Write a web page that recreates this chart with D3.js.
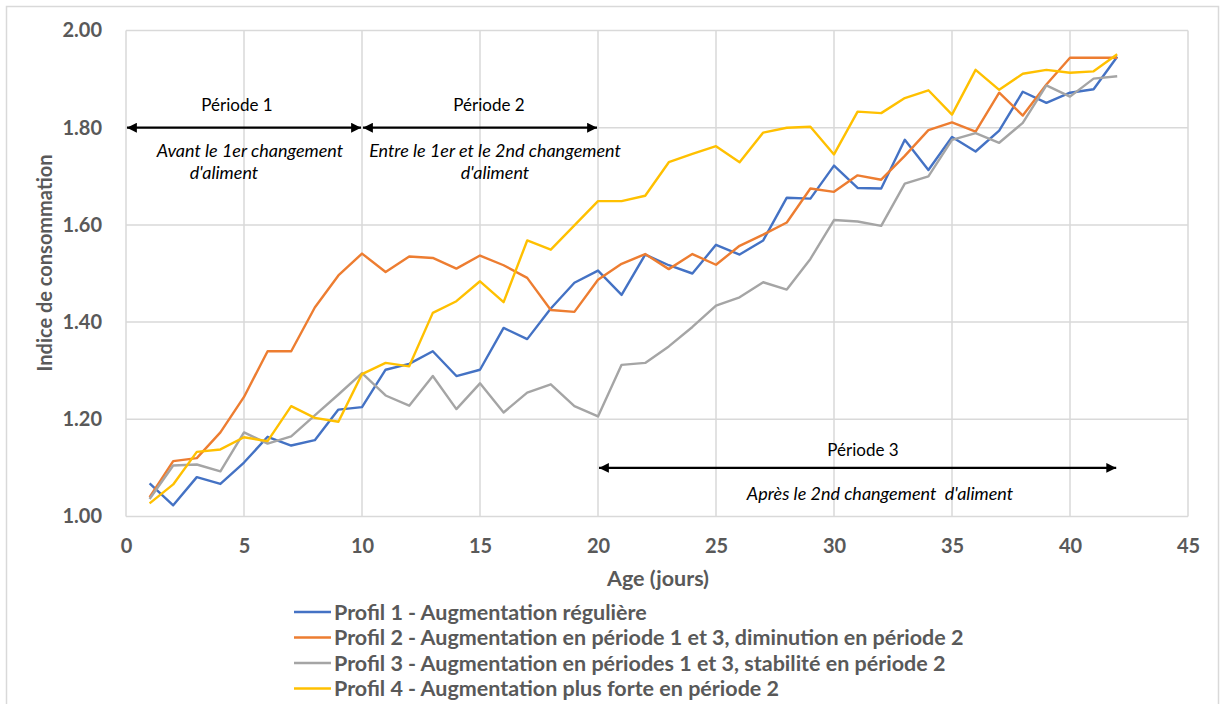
<!DOCTYPE html>
<html><head><meta charset="utf-8">
<script src="https://cdn.jsdelivr.net/npm/d3@7"></script>
<style>
html,body{margin:0;padding:0;background:#fff;}
svg{display:block;font-family:Lato,"Open Sans",sans-serif;}
</style></head>
<body><svg id="c" width="1220" height="704"></svg>
<script>
const days = d3.range(1, 43);
const profil1 = [1.068,1.023,1.081,1.067,1.111,1.164,1.146,1.157,1.220,1.225,
  1.302,1.314,1.340,1.289,1.302,1.388,1.365,1.428,1.481,1.506,
  1.456,1.539,1.517,1.500,1.559,1.539,1.568,1.656,1.654,1.722,
  1.676,1.675,1.775,1.713,1.781,1.751,1.794,1.874,1.851,1.872,1.879,1.946];
const profil2 = [1.040,1.114,1.120,1.173,1.246,1.340,1.340,1.430,1.496,1.541,
  1.503,1.535,1.532,1.510,1.537,1.517,1.491,1.425,1.421,1.487,
  1.520,1.540,1.509,1.540,1.518,1.557,1.580,1.605,1.675,1.668,
  1.702,1.693,1.742,1.795,1.811,1.792,1.872,1.825,1.889,1.944,1.944,1.944];
const profil3 = [1.036,1.105,1.107,1.093,1.173,1.150,1.165,1.208,1.251,1.295,
  1.249,1.228,1.289,1.221,1.274,1.214,1.255,1.272,1.227,1.206,
  1.312,1.316,1.350,1.390,1.434,1.451,1.482,1.467,1.530,1.610,
  1.607,1.598,1.685,1.700,1.775,1.789,1.769,1.810,1.887,1.864,1.901,1.906];
const profil4 = [1.027,1.066,1.133,1.138,1.163,1.155,1.227,1.203,1.195,1.293,
  1.316,1.309,1.419,1.443,1.484,1.441,1.568,1.549,1.599,1.649,
  1.649,1.660,1.729,1.746,1.762,1.729,1.790,1.800,1.802,1.745,
  1.833,1.830,1.861,1.877,1.827,1.919,1.878,1.911,1.919,1.913,1.916,1.951];
const seriesNames = [
  "Profil 1 - Augmentation régulière",
  "Profil 2 - Augmentation en période 1 et 3, diminution en période 2",
  "Profil 3 - Augmentation en périodes 1 et 3, stabilité en période 2",
  "Profil 4 - Augmentation plus forte en période 2"];
const seriesColors = ["#4472C4","#ED7D31","#A5A5A5","#FFC000"];
const xTicks = [0,5,10,15,20,25,30,35,40,45];
const yTicks = [1.0,1.2,1.4,1.6,1.8,2.0];
const periods = [
  {from:0, to:10, y:1.80, title:"Période 1", sub:["Avant le 1er changement","d'aliment"]},
  {from:10, to:20, y:1.80, title:"Période 2", sub:["Entre le 1er et le 2nd changement","d'aliment"]},
  {from:20, to:42, y:1.10, title:"Période 3", sub:["Après le 2nd changement  d'aliment"]}
];

const svg = d3.select("#c");
svg.append("rect").attr("x",6.5).attr("y",6.5).attr("width",1212).attr("height",704)
  .attr("fill","#fff").attr("stroke","#d9d9d9").attr("stroke-width",1.5);

const L = 126, R = 1188, T = 30.5, B = 516.5;
const x = d3.scaleLinear().domain([0,45]).range([L,R]);
const y = d3.scaleLinear().domain([1,2]).range([B,T]);

// gridlines
const g = svg.append("g");
g.selectAll(".gy").data(yTicks).join("line")
  .attr("x1",L).attr("x2",R).attr("y1",d=>y(d)).attr("y2",d=>y(d))
  .attr("stroke","#d9d9d9").attr("stroke-width",1.5);
g.selectAll(".gx").data(xTicks).join("line")
  .attr("x1",d=>x(d)).attr("x2",d=>x(d)).attr("y1",T).attr("y2",B)
  .attr("stroke","#d9d9d9").attr("stroke-width",1.5);

// axes via d3 axes
const xAxis = svg.append("g").attr("transform",`translate(0,${B})`)
  .call(d3.axisBottom(x).tickValues(xTicks).tickSize(0).tickPadding(22).tickFormat(d3.format("d")));
const yAxis = svg.append("g").attr("transform",`translate(${L},0)`)
  .call(d3.axisLeft(y).tickValues(yTicks).tickSize(0).tickPadding(24).tickFormat(d3.format(".2f")));
[xAxis,yAxis].forEach(a=>{
  a.select(".domain").remove();
  a.selectAll("text").attr("fill","#595959").attr("font-size",20).attr("font-weight","bold")
    .attr("font-family","Lato, 'Open Sans', sans-serif");
});

// axis titles
svg.append("text").attr("x",658).attr("y",586).attr("text-anchor","middle")
  .attr("font-size",21.5).attr("font-weight","bold").attr("fill","#595959").text("Age (jours)");
svg.append("text").attr("transform",`translate(52,${263}) rotate(-90)`).attr("text-anchor","middle")
  .attr("font-size",20).attr("font-weight","bold").attr("fill","#595959").text("Indice de consommation");

// lines
const allSeries = [profil1,profil2,profil3,profil4];
const line = d3.line().x((d,i)=>x(days[i])).y(d=>y(d));
allSeries.forEach((s,k)=>{
  svg.append("path").datum(s).attr("d",line).attr("fill","none")
    .attr("stroke",seriesColors[k]).attr("stroke-width",2.4).attr("stroke-linejoin","round");
});

// arrows
const defs = svg.append("defs");
defs.append("marker").attr("id","ah").attr("viewBox","0 0 10 10").attr("refX",10).attr("refY",5)
  .attr("markerWidth",5).attr("markerHeight",4.5).attr("markerUnits","strokeWidth").attr("orient","auto-start-reverse")
  .append("path").attr("d","M0,0 L10,5 L0,10 z").attr("fill","#000");
periods.forEach(p=>{
  const yy = y(p.y);
  svg.append("line").attr("x1",x(p.from)+1).attr("x2",x(p.to)-1).attr("y1",yy).attr("y2",yy)
    .attr("stroke","#000").attr("stroke-width",2.2)
    .attr("marker-start","url(#ah)").attr("marker-end","url(#ah)");
});
// annotation text
const ann = [
  {cx:237, ty:111, s:[{x:250,y:157},{x:224,y:179}]},
  {cx:489, ty:111, s:[{x:495,y:157},{x:495,y:179}]},
  {cx:863, ty:456, s:[{x:880,y:500}]}
];
ann.forEach((a,i)=>{
  svg.append("text").attr("x",a.cx).attr("y",a.ty).attr("text-anchor","middle")
    .attr("font-size",17).attr("fill","#000").text(periods[i].title);
  a.s.forEach((s,j)=>{
    svg.append("text").attr("x",s.x).attr("y",s.y).attr("text-anchor","middle")
      .attr("font-size",18).attr("font-style","italic").attr("fill","#000")
      .style("white-space","pre").text(periods[i].sub[j]);
  });
});

// legend
const lg = svg.append("g");
seriesNames.forEach((n,k)=>{
  const yy = 612 + k*25.5;
  lg.append("line").attr("x1",294).attr("x2",331).attr("y1",yy).attr("y2",yy)
    .attr("stroke",seriesColors[k]).attr("stroke-width",2.4);
  lg.append("text").attr("x",334).attr("y",yy+7.5).attr("font-size",21.5).attr("font-weight","bold")
    .attr("fill","#595959").text(n);
});
</script></body></html>
